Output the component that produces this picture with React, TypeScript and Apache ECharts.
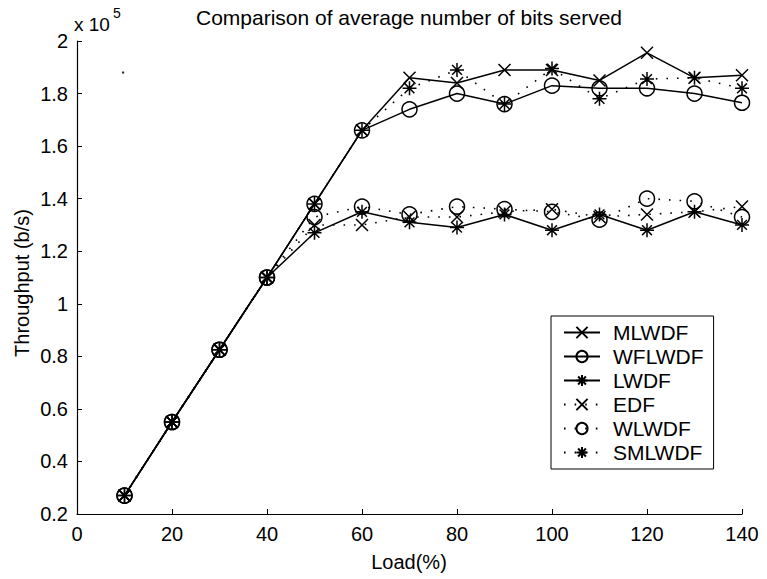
import React, { useEffect, useRef } from "react";
import * as echarts from "echarts";

const loads = [10, 20, 30, 40, 50, 60, 70, 80, 90, 100, 110, 120, 130, 140];
const mlwdf = [0.27, 0.55, 0.825, 1.1, 1.38, 1.66, 1.86, 1.84, 1.89, 1.89, 1.85, 1.955, 1.86, 1.87];
const wflwdf = [0.27, 0.55, 0.825, 1.1, 1.38, 1.66, 1.74, 1.8, 1.76, 1.83, 1.82, 1.82, 1.8, 1.765];
const lwdf = [0.27, 0.55, 0.825, 1.1, 1.27, 1.35, 1.31, 1.29, 1.34, 1.28, 1.34, 1.28, 1.35, 1.3];
const edf = [0.27, 0.55, 0.825, 1.1, 1.3, 1.3, 1.33, 1.33, 1.35, 1.36, 1.33, 1.34, 1.35, 1.37];
const wlwdf = [0.27, 0.55, 0.825, 1.1, 1.33, 1.37, 1.34, 1.37, 1.36, 1.35, 1.32, 1.4, 1.39, 1.33];
const smlwdf = [0.27, 0.55, 0.825, 1.1, 1.38, 1.66, 1.82, 1.89, 1.76, 1.895, 1.78, 1.855, 1.86, 1.82];
const strayDot = [[9.7, 1.88]];

const seriesNames = ["MLWDF", "WFLWDF", "LWDF", "EDF", "WLWDF", "SMLWDF"];
const titleText = "Comparison of average number of bits served";
const xName = "Load(%)";
const yName = "Throughput (b/s)";

const X_MARK = "path://M0 0L10 10M10 0L0 10";
const STAR_MARK = "path://M5 0L5 10M0 5L10 5M1.5 1.5L8.5 8.5M8.5 1.5L1.5 8.5";

const FONT = "Liberation Sans, Arial, Helvetica, sans-serif";

function makeSeries(name: string, vals: number[], symbol: string, dotted: boolean, size: number) {
  return {
    name,
    type: "line",
    data: loads.map((x, i) => [x, vals[i]]),
    symbol,
    symbolSize: size,
    symbolKeepAspect: true,
    showSymbol: true,
    lineStyle: {
      color: "#000",
      width: dotted ? 1.6 : 1.5,
      type: dotted ? [1.6, 9] : "solid",
    },
    itemStyle: {
      color: "rgba(0,0,0,0)",
      borderColor: "#000",
      borderWidth: 1.5,
    },
    emphasis: { disabled: true },
  };
}

export default function App() {
  const ref = useRef<HTMLDivElement>(null);
  useEffect(() => {
    if (!ref.current) return;
    const chart = echarts.init(ref.current, null, { renderer: "svg" });
    chart.setOption({
      animation: false,
      backgroundColor: "#fff",
      textStyle: { fontFamily: FONT, color: "#000" },
      grid: { left: 77, top: 41, width: 665, height: 473, containLabel: false },
      xAxis: {
        type: "value",
        min: 0,
        max: 140,
        interval: 20,
        axisLine: { show: true, lineStyle: { color: "#000", width: 1.2 } },
        axisTick: { show: true, inside: true, length: 5, lineStyle: { color: "#000" } },
        axisLabel: { color: "#000", fontSize: 20, fontFamily: FONT, margin: 10 },
        splitLine: { show: false },
      },
      yAxis: {
        type: "value",
        min: 0.2,
        max: 2,
        interval: 0.2,
        axisLine: { show: true, lineStyle: { color: "#000", width: 1.2 } },
        axisTick: { show: true, inside: true, length: 5, lineStyle: { color: "#000" } },
        axisLabel: {
          color: "#000",
          fontSize: 20,
          fontFamily: FONT,
          margin: 9,
          formatter: (v: number) => String(Number(v.toFixed(1))),
        },
        splitLine: { show: false },
      },
      legend: {
        data: seriesNames,
        orient: "vertical",
        left: 551,
        top: 316,
        padding: [6, 10, 6, 12],
        itemWidth: 36,
        itemHeight: 14,
        itemGap: 3,
        borderColor: "#000",
        borderWidth: 1,
        backgroundColor: "#fff",
        textStyle: { fontSize: 21, lineHeight: 21, fontFamily: FONT, color: "#000", padding: [0, 0, 0, 8] },
      },
      graphic: [
        {
          type: "text",
          x: 409,
          y: 17,
          style: { text: titleText, font: `21px ${FONT}`, fill: "#000", align: "center", verticalAlign: "middle" },
        },
        {
          type: "text",
          x: 409,
          y: 562,
          style: { text: xName, font: `20px ${FONT}`, fill: "#000", align: "center", verticalAlign: "middle" },
        },
        {
          type: "text",
          x: 22,
          y: 283,
          rotation: Math.PI / 2,
          style: { text: yName, font: `20px ${FONT}`, fill: "#000", align: "center", verticalAlign: "middle" },
        },
        {
          type: "text",
          x: 74,
          y: 24,
          style: { text: "x 10", font: `19px ${FONT}`, fill: "#000", align: "left", verticalAlign: "middle" },
        },
        {
          type: "text",
          x: 113,
          y: 13,
          style: { text: "5", font: `14px ${FONT}`, fill: "#000", align: "left", verticalAlign: "middle" },
        },
      ],
      series: [
        makeSeries("MLWDF", mlwdf, X_MARK, false, 12),
        makeSeries("WFLWDF", wflwdf, "circle", false, 15),
        makeSeries("LWDF", lwdf, STAR_MARK, false, 14),
        makeSeries("EDF", edf, X_MARK, true, 12),
        makeSeries("WLWDF", wlwdf, "circle", true, 15),
        makeSeries("SMLWDF", smlwdf, STAR_MARK, true, 14),
        {
          name: "dot",
          type: "scatter",
          data: strayDot,
          symbol: "circle",
          symbolSize: 2.5,
          itemStyle: { color: "#000" },
          emphasis: { disabled: true },
        },
      ],
    });
    return () => chart.dispose();
  }, []);
  return <div ref={ref} style={{ position: "fixed", left: 0, top: 0, width: 767, height: 579 }} />;
}
